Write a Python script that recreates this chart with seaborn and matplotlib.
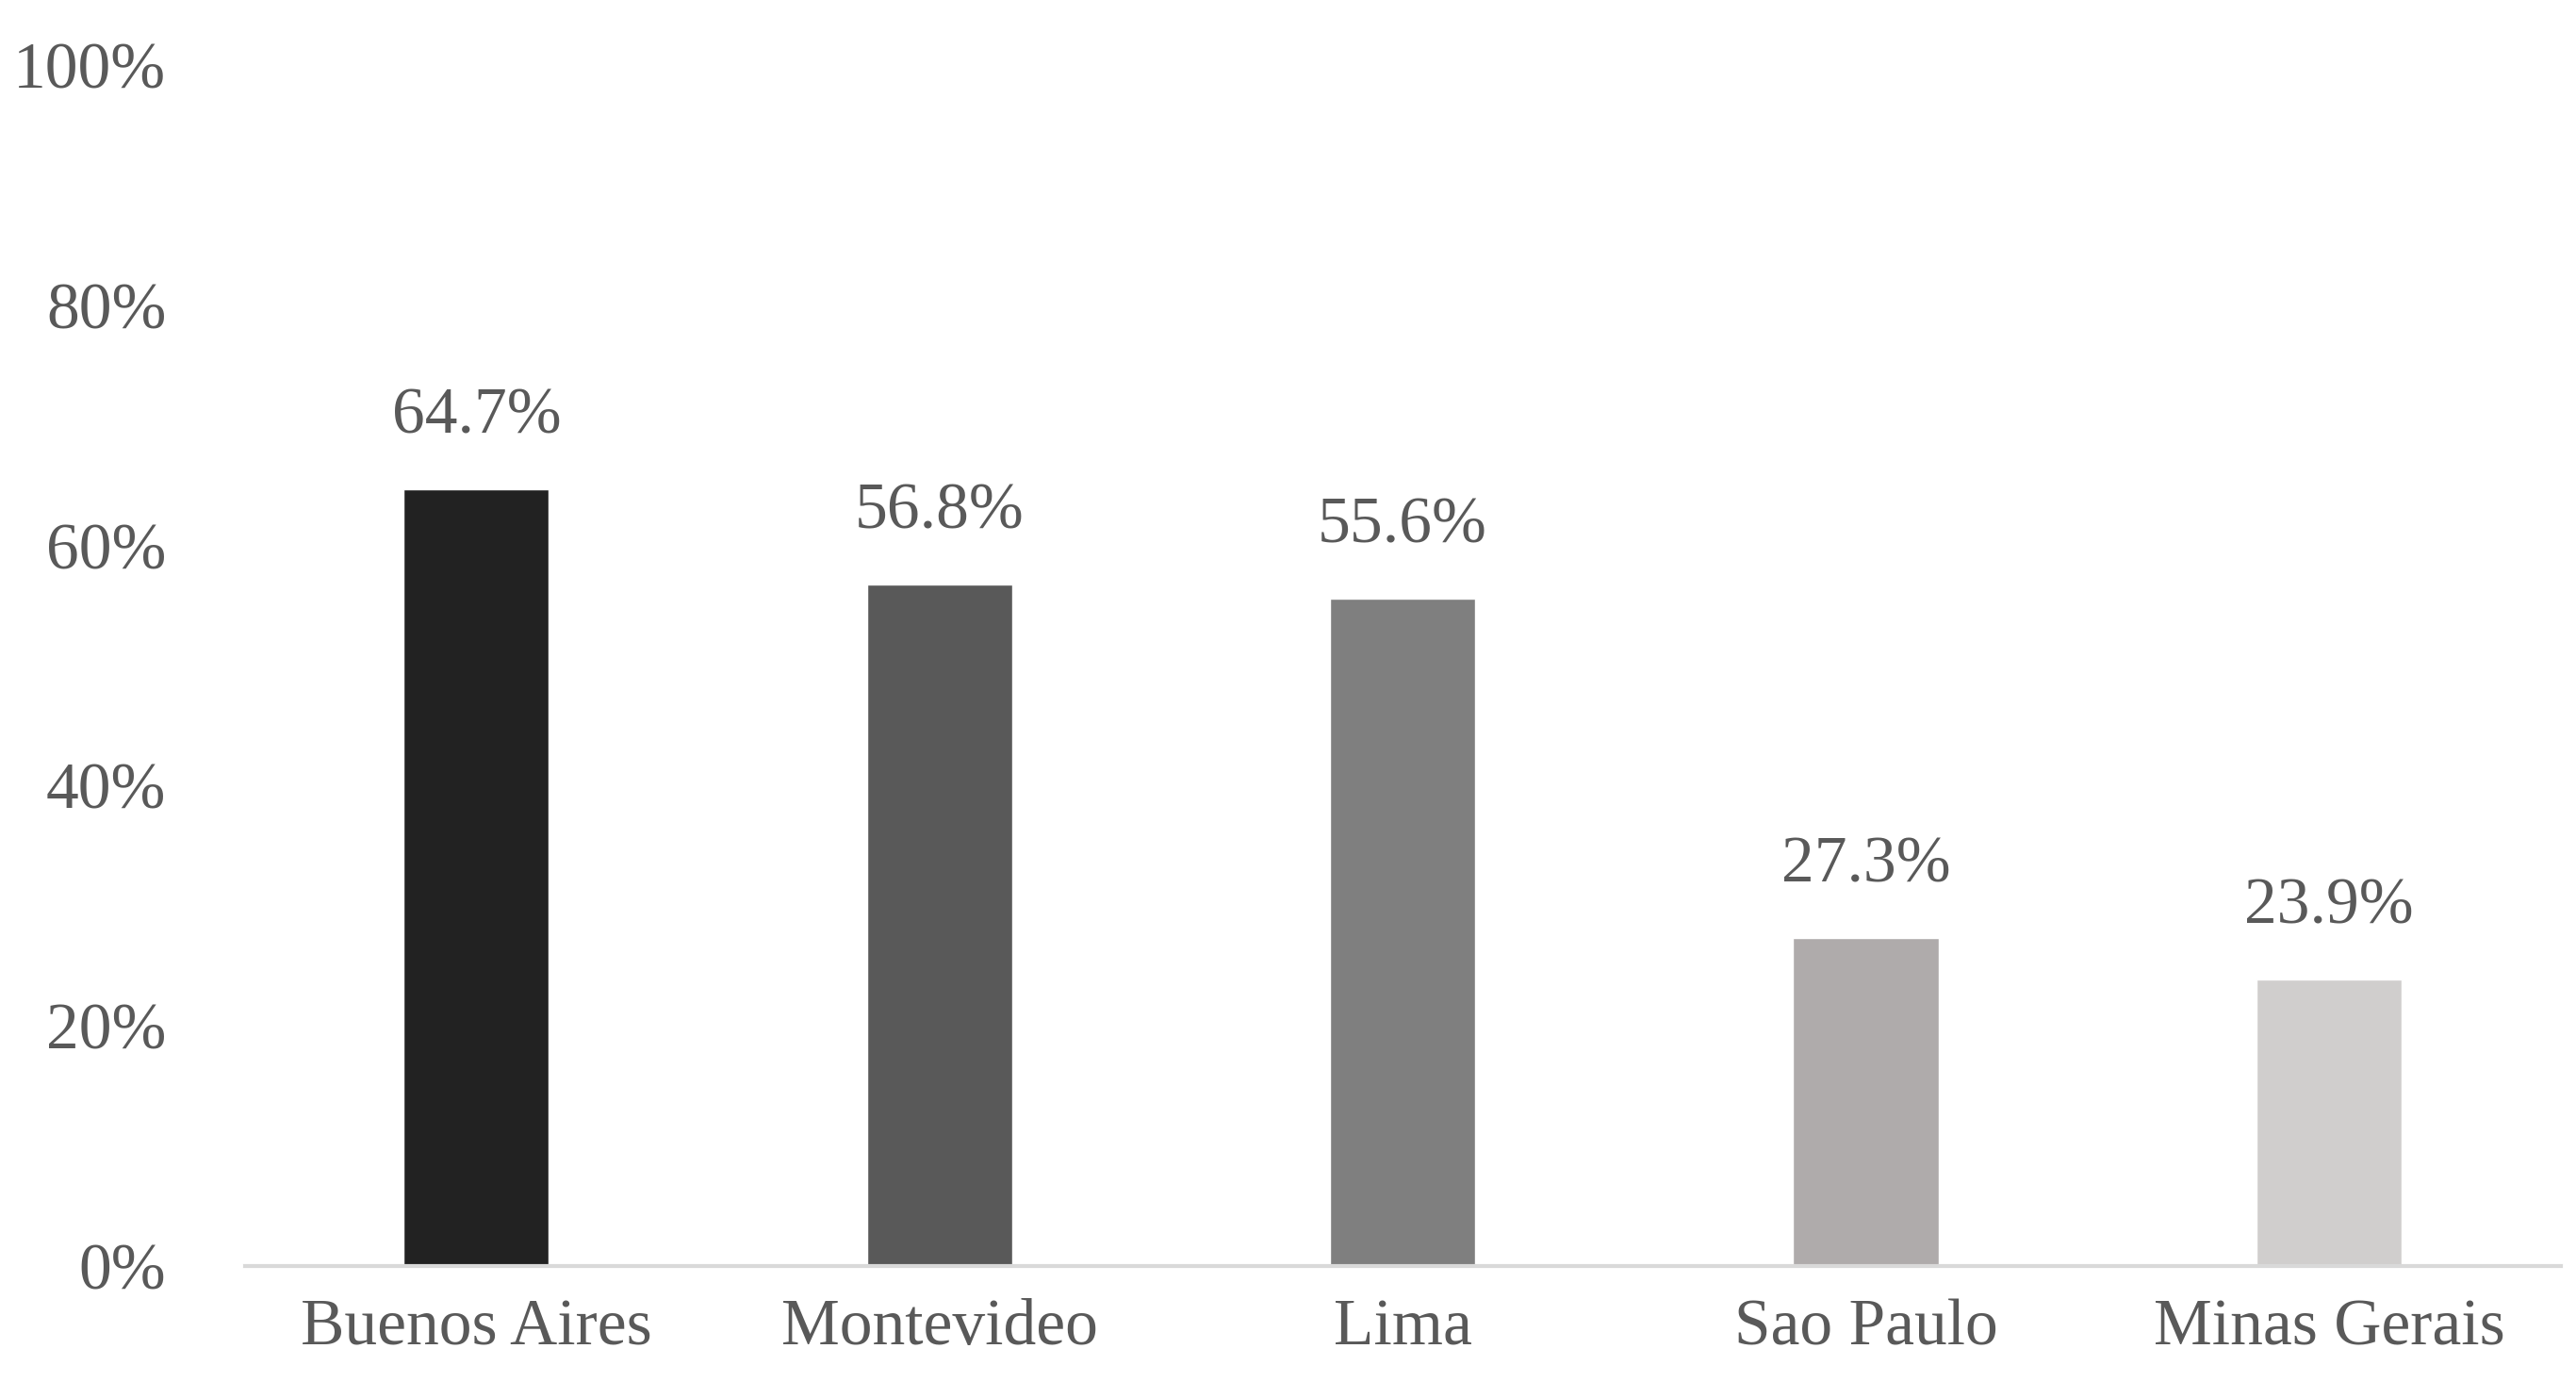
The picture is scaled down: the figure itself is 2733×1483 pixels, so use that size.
import matplotlib
matplotlib.use("Agg")
import matplotlib.pyplot as plt
import seaborn as sns
import pandas as pd

cities = ["Buenos Aires", "Montevideo", "Lima", "Sao Paulo", "Minas Gerais"]
values = [64.7, 56.8, 55.6, 27.3, 23.9]
colors = ["#222222", "#595959", "#7f7f7f", "#afabab", "#d0cecd"]

sns.set_style("white")
plt.rcParams["font.family"] = ["Liberation Serif", "DejaVu Serif"]
txt = "#595959"

df = pd.DataFrame({"city": cities, "value": values})
fig = plt.figure(figsize=(27.33, 14.83), dpi=100)
ax = fig.add_axes([0.095, 0.0945, 0.899, 0.8585])
sns.barplot(data=df, x="city", y="value", hue="city", palette=colors,
            width=0.314, legend=False, ax=ax, saturation=1)

for i, v in enumerate(values):
    ax.text(i, v + 3.5, f"{v:.1f}%", ha="center", va="bottom", fontsize=50, color=txt)

ax.set_ylim(0, 100)
ax.set_xlim(-0.5, 4.5)
ax.set_yticks(range(0, 101, 20))
ax.set_yticklabels([f"{t}%" for t in range(0, 101, 20)])
ax.tick_params(axis="both", length=0, labelsize=50, labelcolor=txt)
ax.tick_params(axis="y", pad=60)
ax.tick_params(axis="x", pad=25)
ax.set_xlabel("")
ax.set_ylabel("")
for s in ["top", "right", "left"]:
    ax.spines[s].set_visible(False)
ax.spines["bottom"].set_color("#d9d9d9")
ax.spines["bottom"].set_linewidth(3)

fig.savefig("out.png", dpi=100)
